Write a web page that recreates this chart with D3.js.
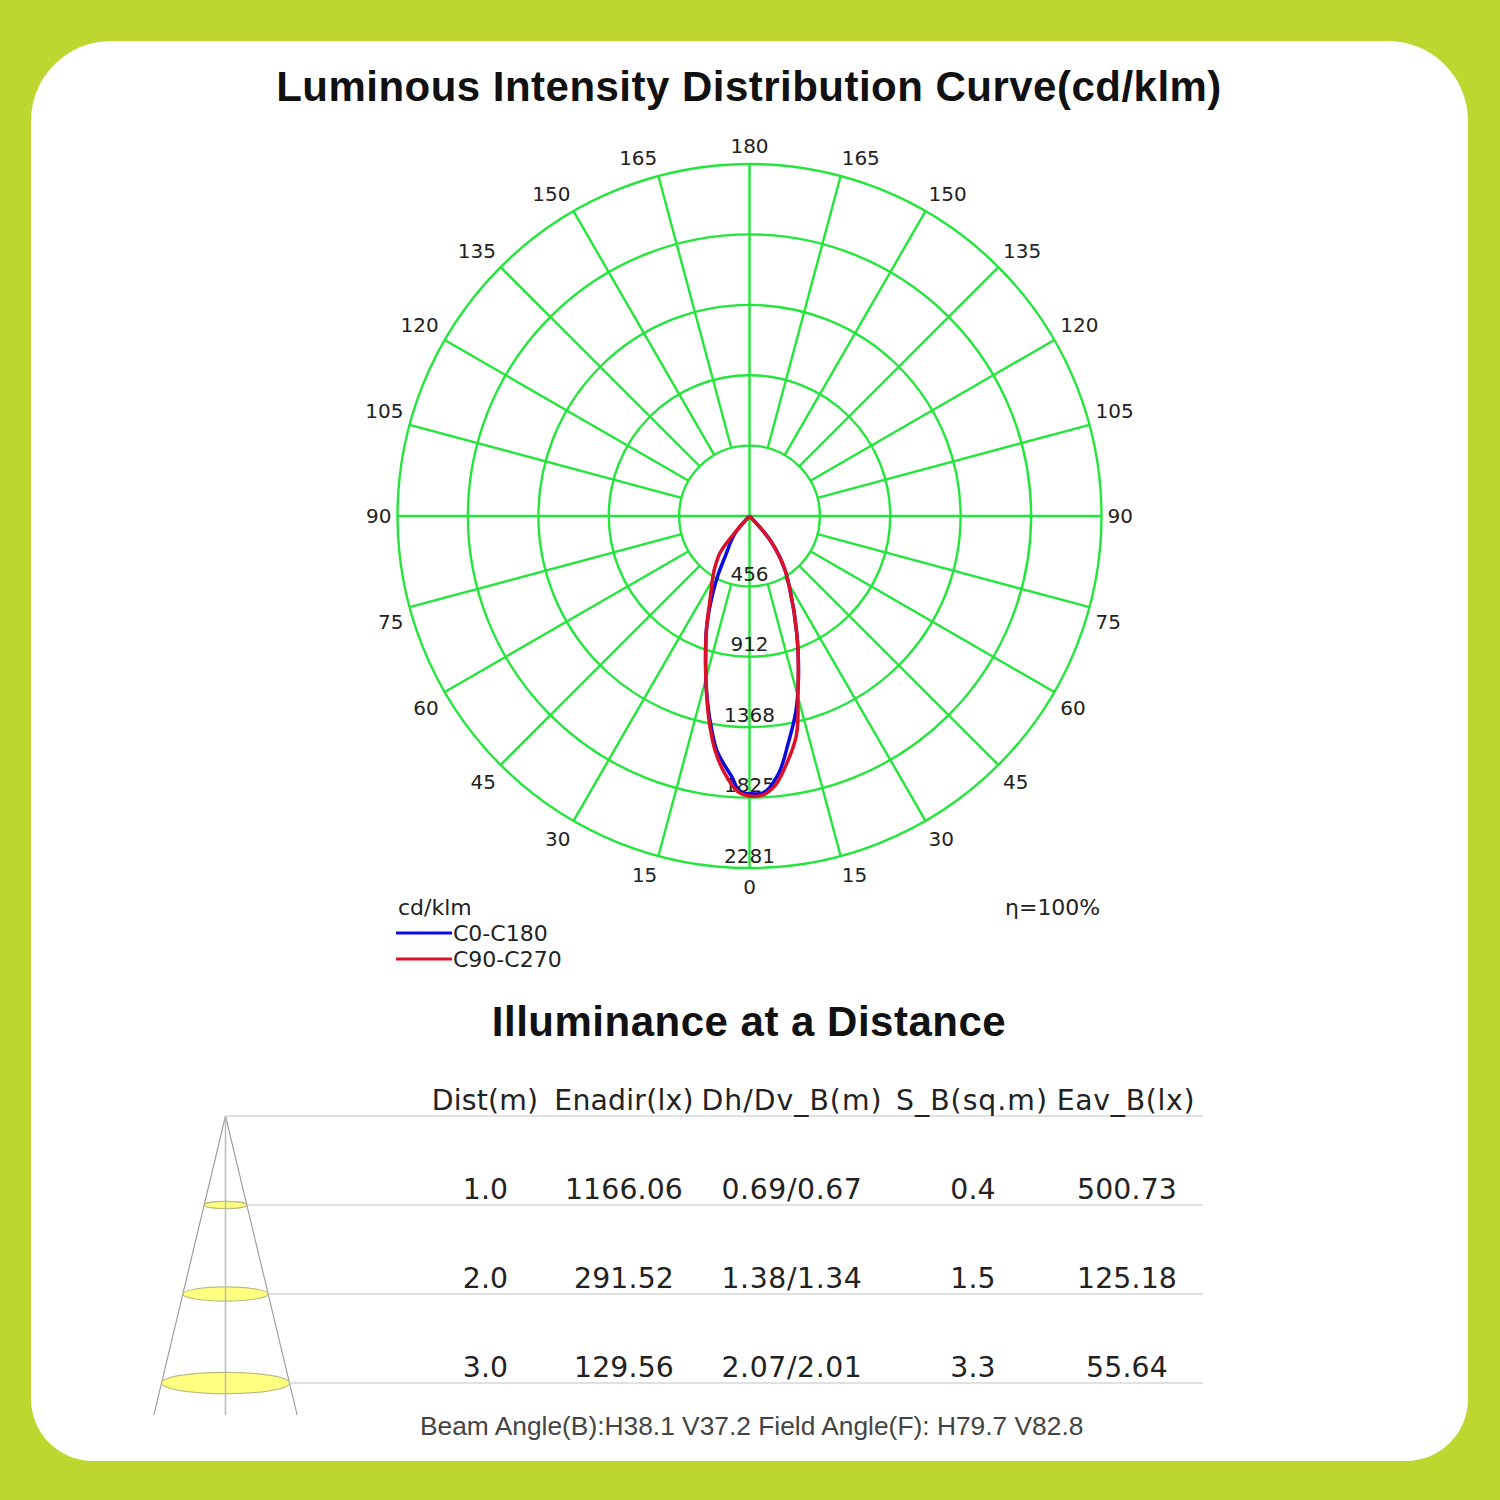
<!DOCTYPE html>
<html>
<head>
<meta charset="utf-8">
<style>html,body{margin:0;padding:0;background:#fff}svg{display:block}</style>
<script src="https://cdn.jsdelivr.net/npm/d3@7"></script>
</head>
<body>
<svg id="chart" width="1500" height="1500"></svg>
<script>
// Photometric curves: [gamma in degrees, intensity in cd/klm]; negative gamma is the left half.
const c0c180Angles = [-45,-40,-30.9,-28.1,-25.4,-21.1,-16.2,-14.6,-10,-8,-3.9,-1.6,0,2.8,6,9.7,13.5,16.3,19.9,22,28.7,33.3,40.5,45];
const c0c180Values = [0,145,310,433,553,771,1019,1118,1408,1531,1693,1796,1800,1797,1698,1492,1293,1127,923,817,547,419,205,0];
const c90c270Angles = [-45,-41,-38.6,-34.1,-25.2,-21.1,-16.2,-14.6,-10.6,-8.4,-5,-2,0,2.8,4.9,8.6,11.9,15.3,19.9,22,28.7,33.3,40.5,45];
const c90c270Values = [0,163,307,399,601,771,1019,1118,1391,1533,1696,1796,1814,1810,1769,1619,1463,1189,923,817,547,419,205,0];

const ringValues = [456, 912, 1368, 1825, 2281];
const spokeAngles = d3.range(15, 360, 15).filter(a => a % 90 !== 0);
const gammaLabels = [0,15,30,45,60,75,90,105,120,135,150,165,180];

const seriesNames = ["C0-C180", "C90-C270"];
const seriesColors = ["#0a0ade", "#dc1028"];

// Illuminance table
const tableHeaders = ["Dist(m)", "Enadir(lx)", "Dh/Dv_B(m)", "S_B(sq.m)", "Eav_B(lx)"];
const distances = [1, 2, 3];
const distLabels = ["1.0", "2.0", "3.0"];
const enadir = ["1166.06", "291.52", "129.56"];
const dhDv = ["0.69/0.67", "1.38/1.34", "2.07/2.01"];
const sB = ["0.4", "1.5", "3.3"];
const eavB = ["500.73", "125.18", "55.64"];

const svg = d3.select("#chart");
const verdana = "'DejaVu Sans', sans-serif";
const arial = "'Liberation Sans', Arial, sans-serif";

// Backdrop card: the top corners are rounder than the bottom ones
const cardPath = d3.path();
const L = 31, T = 41, R = 1468, B = 1461, rTop = 80, rBottom = 62;
cardPath.moveTo(L + rTop, T);
cardPath.lineTo(R - rTop, T);
cardPath.arcTo(R, T, R, T + rTop, rTop);
cardPath.lineTo(R, B - rBottom);
cardPath.arcTo(R, B, R - rBottom, B, rBottom);
cardPath.lineTo(L + rBottom, B);
cardPath.arcTo(L, B, L, B - rBottom, rBottom);
cardPath.lineTo(L, T + rTop);
cardPath.arcTo(L, T, L + rTop, T, rTop);
cardPath.closePath();
svg.append("rect").attr("width", 1500).attr("height", 1500).attr("fill", "#bed730");
svg.append("path").attr("d", cardPath.toString()).attr("fill", "#fff");

svg.append("text").attr("x", 749).attr("y", 101).attr("text-anchor", "middle")
  .attr("font-family", arial).attr("font-weight", 700).attr("font-size", 42)
  .attr("letter-spacing", 0.48).attr("fill", "#111")
  .text("Luminous Intensity Distribution Curve(cd/klm)");

// Polar grid
const cx = 749.5, cy = 516, outerR = 352;
const rScale = d3.scaleLinear().domain([0, 2281]).range([0, outerR]);
const polar = svg.append("g").attr("transform", `translate(${cx},${cy})`);
const gridColor = "#22e63a";
const gridWidth = 2.4;

polar.selectAll("circle.ring").data(ringValues).join("circle")
  .attr("r", d => rScale(d)).attr("fill", "none").attr("stroke", gridColor).attr("stroke-width", gridWidth);

polar.selectAll("line.spoke").data(spokeAngles).join("line")
  .attr("x1", a => Math.sin(a * Math.PI / 180) * rScale(456))
  .attr("y1", a => Math.cos(a * Math.PI / 180) * rScale(456))
  .attr("x2", a => Math.sin(a * Math.PI / 180) * outerR)
  .attr("y2", a => Math.cos(a * Math.PI / 180) * outerR)
  .attr("stroke", gridColor).attr("stroke-width", gridWidth);

polar.selectAll("line.axis").data([0, 90, 180, 270]).join("line")
  .attr("x2", a => Math.sin(a * Math.PI / 180) * outerR)
  .attr("y2", a => Math.cos(a * Math.PI / 180) * outerR)
  .attr("stroke", gridColor).attr("stroke-width", gridWidth);

// Intensity labels sit just above each ring on the vertical axis
polar.selectAll("text.ringLabel").data(ringValues).join("text")
  .attr("x", 0).attr("y", d => rScale(d) - 12.5)
  .attr("text-anchor", "middle").attr("dominant-baseline", "central")
  .attr("font-family", verdana).attr("font-size", 20).attr("fill", "#222")
  .text(d => d);

// Gamma labels around the rim, mirrored on both sides
const rimLabels = gammaLabels.flatMap(g => (g === 0 || g === 180) ? [{g, side: 0}] : [{g, side: 1}, {g, side: -1}]);
polar.selectAll("text.rim").data(rimLabels).join("text")
  .attr("x", d => {
    const s = Math.sin(d.g * Math.PI / 180);
    return d.side * (s * outerR + Math.min(6, -1 + 8 * s));
  })
  .attr("y", d => {
    const c = Math.cos(d.g * Math.PI / 180);
    if (d.g === 90) return 0;
    const gap = (d.g < 90 ? 13.5 : 12.5) + 5.5 * Math.abs(c);
    return c * outerR + Math.sign(c) * gap;
  })
  .attr("text-anchor", d => d.side === 0 ? "middle" : d.side > 0 ? "start" : "end")
  .attr("dominant-baseline", "central")
  .attr("font-family", verdana).attr("font-size", 20).attr("fill", "#222")
  .text(d => d.g);

// Distribution curves; the angle is measured from straight down
const radial = d3.lineRadial()
  .angle(d => Math.PI - d[0] * Math.PI / 180)
  .radius(d => rScale(d[1]))
  .curve(d3.curveCatmullRom.alpha(1));
const curves = [d3.zip(c0c180Angles, c0c180Values), d3.zip(c90c270Angles, c90c270Values)];
polar.selectAll("path.curve").data(curves).join("path")
  .attr("d", radial).attr("fill", "none")
  .attr("stroke", (d, i) => seriesColors[i]).attr("stroke-width", 3.5)
  .attr("stroke-linejoin", "round");

// Legend
svg.append("text").attr("x", 398).attr("y", 907.5).attr("dominant-baseline", "central")
  .attr("font-family", verdana).attr("font-size", 22).attr("fill", "#222").text("cd/klm");
svg.append("text").attr("x", 1005).attr("y", 907.5).attr("dominant-baseline", "central")
  .attr("font-family", verdana).attr("font-size", 22).attr("fill", "#222").text("η=100%");
const legend = svg.selectAll("g.legend").data(seriesNames).join("g")
  .attr("transform", (d, i) => `translate(396,${933 + i * 26})`);
legend.append("line").attr("x2", 56).attr("stroke", (d, i) => seriesColors[i]).attr("stroke-width", 3);
legend.append("text").attr("x", 57).attr("y", 0).attr("dominant-baseline", "central")
  .attr("font-family", verdana).attr("font-size", 22).attr("fill", "#222").text(d => d);

svg.append("text").attr("x", 749).attr("y", 1036).attr("text-anchor", "middle")
  .attr("font-family", arial).attr("font-weight", 700).attr("font-size", 42)
  .attr("letter-spacing", 0.5).attr("fill", "#111")
  .text("Illuminance at a Distance");

// Light cone: distance maps to depth, half width grows linearly with distance
const yDist = d3.scaleLinear().domain([0, 3]).range([1116, 1383]);
const halfWidth = d3.scaleLinear().domain([0, 3]).range([0, 64]);
const coneX = 225.5, coneEnd = 3.36;
const cone = svg.append("g");
[-1, 1].forEach(side => {
  cone.append("line").attr("x1", coneX).attr("y1", yDist(0))
    .attr("x2", coneX + side * halfWidth(coneEnd)).attr("y2", yDist(coneEnd))
    .attr("stroke", "#999").attr("stroke-width", 1.1);
});
cone.selectAll("ellipse").data(distances).join("ellipse")
  .attr("cx", coneX).attr("cy", d => yDist(d))
  .attr("rx", d => halfWidth(d)).attr("ry", d => halfWidth(d) / 6)
  .attr("fill", "#ffff80").attr("stroke", "#bcbc80").attr("stroke-width", 1.2);
cone.append("line").attr("x1", coneX).attr("y1", yDist(0))
  .attr("x2", coneX).attr("y2", yDist(coneEnd))
  .attr("stroke", "#bbb").attr("stroke-width", 1.5);

// Row rules run from the cone's rim to the right edge of the table
svg.selectAll("line.rule").data([0, ...distances]).join("line")
  .attr("x1", d => coneX + halfWidth(d)).attr("x2", 1203)
  .attr("y1", d => yDist(d)).attr("y2", d => yDist(d))
  .attr("stroke", "#c4c4c4").attr("stroke-width", 1.2);

const colX = [485.5, 624, 792, 973, 1127];
const headerX = [485, 624, 792, 972, 1126];
const headerTracking = [0.2, 0.2, 1.0, 1.0, 0.7];
const cellTracking = [0.2, 0.15, 0.6, 0.2, 0.15];
svg.selectAll("text.head").data(tableHeaders).join("text")
  .attr("x", (d, i) => headerX[i]).attr("y", 1100)
  .attr("text-anchor", "middle").attr("dominant-baseline", "central")
  .attr("letter-spacing", (d, i) => headerTracking[i])
  .attr("font-family", verdana).attr("font-size", 28.3).attr("fill", "#222").text(d => d);

const columns = [distLabels, enadir, dhDv, sB, eavB];
columns.forEach((col, c) => {
  svg.selectAll(`text.col${c}`).data(col).join("text")
    .attr("x", colX[c]).attr("y", (d, i) => yDist(distances[i]) - 16)
    .attr("text-anchor", "middle").attr("dominant-baseline", "central")
    .attr("letter-spacing", cellTracking[c])
    .attr("font-family", verdana).attr("font-size", 28.3).attr("fill", "#222").text(d => d);
});

svg.append("text").attr("x", 420).attr("y", 1435)
  .attr("font-family", arial).attr("font-size", 26.35).attr("fill", "#444")
  .text("Beam Angle(B):H38.1 V37.2 Field Angle(F): H79.7 V82.8");
</script>
</body>
</html>
